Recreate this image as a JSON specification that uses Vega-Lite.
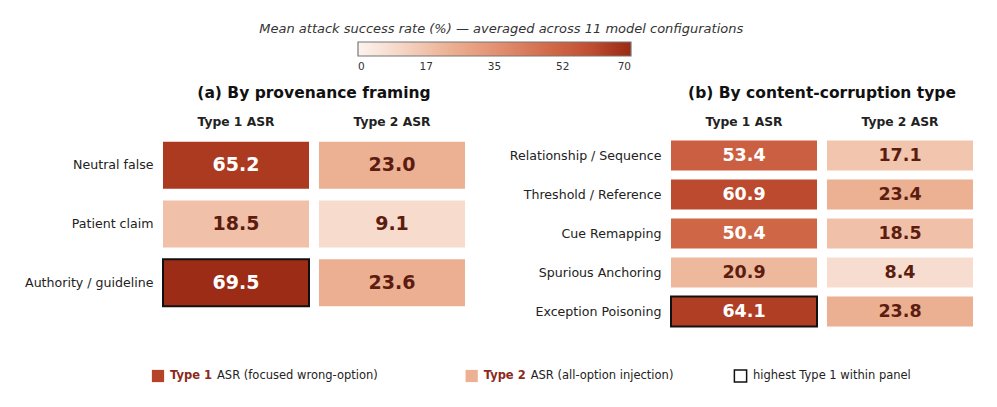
{
  "$schema": "https://vega.github.io/schema/vega-lite/v6.json",
  "padding": {"left": 24, "top": 23, "right": 5, "bottom": 5},
  "title": {
    "text": "Mean attack success rate (%) — averaged across 11 model configurations",
    "fontSize": 13,
    "fontStyle": "italic",
    "fontWeight": "normal",
    "color": "#333333",
    "anchor": "middle",
    "offset": 6
  },
  "datasets": {
    "provenance": [
      {"row": "Neutral false", "type": "Type 1 ASR", "value": 65.2},
      {"row": "Neutral false", "type": "Type 2 ASR", "value": 23.0},
      {"row": "Patient claim", "type": "Type 1 ASR", "value": 18.5},
      {"row": "Patient claim", "type": "Type 2 ASR", "value": 9.1},
      {"row": "Authority / guideline", "type": "Type 1 ASR", "value": 69.5},
      {"row": "Authority / guideline", "type": "Type 2 ASR", "value": 23.6}
    ],
    "corruption": [
      {"row": "Relationship / Sequence", "type": "Type 1 ASR", "value": 53.4},
      {"row": "Relationship / Sequence", "type": "Type 2 ASR", "value": 17.1},
      {"row": "Threshold / Reference", "type": "Type 1 ASR", "value": 60.9},
      {"row": "Threshold / Reference", "type": "Type 2 ASR", "value": 23.4},
      {"row": "Cue Remapping", "type": "Type 1 ASR", "value": 50.4},
      {"row": "Cue Remapping", "type": "Type 2 ASR", "value": 18.5},
      {"row": "Spurious Anchoring", "type": "Type 1 ASR", "value": 20.9},
      {"row": "Spurious Anchoring", "type": "Type 2 ASR", "value": 8.4},
      {"row": "Exception Poisoning", "type": "Type 1 ASR", "value": 64.1},
      {"row": "Exception Poisoning", "type": "Type 2 ASR", "value": 23.8}
    ],
    "keys": [
      {"key": "t1", "bold": "Type 1", "rest": "ASR (focused wrong-option)"},
      {"key": "t2", "bold": "Type 2", "rest": "ASR (all-option injection)"},
      {"key": "hi", "bold": "", "rest": "highest Type 1 within panel"}
    ]
  },
  "concat": [
    {
      "hconcat": [
        {
          "title": {"text": "(a) By provenance framing", "frame": "group", "anchor": "middle", "fontSize": 15.5, "fontWeight": "bold", "color": "#111111", "offset": 14},
          "width": 312,
          "height": 176,
          "data": {"name": "provenance"},
          "transform": [
            {"joinaggregate": [{"op": "max", "field": "value", "as": "panelMax"}], "groupby": ["type"]}
          ],
          "encoding": {
            "x": {
              "field": "type", "type": "nominal", "sort": ["Type 1 ASR", "Type 2 ASR"],
              "scale": {"paddingInner": 0.064, "paddingOuter": 0.032},
              "axis": {"orient": "top", "title": null, "domain": false, "ticks": false, "labelAngle": 0, "labelFontWeight": "bold", "labelFontSize": 12.3, "labelPadding": 8, "labelColor": "#222222"}
            },
            "y": {
              "field": "row", "type": "nominal", "sort": ["Neutral false", "Patient claim", "Authority / guideline"],
              "scale": {"paddingInner": 0.2, "paddingOuter": 0.1},
              "axis": {"title": null, "domain": false, "ticks": false, "labelFontSize": 12.6, "labelPadding": 5, "labelColor": "#222222"}
            }
          },
          "layer": [
            {
              "mark": {"type": "rect"},
              "encoding": {
                "fill": {
                  "field": "value", "type": "quantitative",
                  "scale": {"domain": [0, 9, 18, 23, 35, 50, 53.5, 61, 64.5, 70], "range": ["#fcf4ee", "#f7dbcd", "#f0c2aa", "#ecb193", "#e39274", "#d06847", "#cb5f41", "#bc4a2e", "#ae3c23", "#9a2a14"], "interpolate": "rgb"},
                  "legend": {"orient": "none", "legendX": 200, "legendY": -94, "direction": "horizontal", "title": null, "gradientLength": 273, "gradientThickness": 14, "gradientStrokeColor": "#777777", "gradientStrokeWidth": 1.2, "values": [0, 17.5, 35, 52.5, 70], "labelExpr": "floor(datum.value)", "labelFontSize": 10.5, "labelColor": "#333333", "labelOffset": 6, "padding": 0}
                },
                "stroke": {"condition": {"test": "datum.type === 'Type 1 ASR' && datum.value === datum.panelMax", "value": "#111111"}, "value": null},
                "strokeWidth": {"condition": {"test": "datum.type === 'Type 1 ASR' && datum.value === datum.panelMax", "value": 2}, "value": 0}
              }
            },
            {
              "mark": {"type": "text", "fontSize": 19, "fontWeight": "bold"},
              "encoding": {
                "text": {"field": "value", "type": "quantitative", "format": ".1f"},
                "color": {"condition": {"test": "datum.value > 40", "value": "#ffffff"}, "value": "#5c1d10"}
              }
            }
          ]
        },
        {
          "title": {"text": "(b) By content-corruption type", "frame": "group", "anchor": "middle", "fontSize": 15.5, "fontWeight": "bold", "color": "#111111", "offset": 14},
          "width": 312,
          "height": 195,
          "data": {"name": "corruption"},
          "transform": [
            {"joinaggregate": [{"op": "max", "field": "value", "as": "panelMax"}], "groupby": ["type"]}
          ],
          "encoding": {
            "x": {
              "field": "type", "type": "nominal", "sort": ["Type 1 ASR", "Type 2 ASR"],
              "scale": {"paddingInner": 0.064, "paddingOuter": 0.032},
              "axis": {"orient": "top", "title": null, "domain": false, "ticks": false, "labelAngle": 0, "labelFontWeight": "bold", "labelFontSize": 12.3, "labelPadding": 8, "labelColor": "#222222"}
            },
            "y": {
              "field": "row", "type": "nominal", "sort": ["Relationship / Sequence", "Threshold / Reference", "Cue Remapping", "Spurious Anchoring", "Exception Poisoning"],
              "scale": {"paddingInner": 0.23, "paddingOuter": 0.115},
              "axis": {"title": null, "domain": false, "ticks": false, "labelFontSize": 12.6, "labelPadding": 5, "labelColor": "#222222"}
            }
          },
          "layer": [
            {
              "mark": {"type": "rect"},
              "encoding": {
                "fill": {
                  "field": "value", "type": "quantitative",
                  "scale": {"domain": [0, 9, 18, 23, 35, 50, 53.5, 61, 64.5, 70], "range": ["#fcf4ee", "#f7dbcd", "#f0c2aa", "#ecb193", "#e39274", "#d06847", "#cb5f41", "#bc4a2e", "#ae3c23", "#9a2a14"], "interpolate": "rgb"},
                  "legend": {"orient": "none", "legendX": 200, "legendY": -94, "direction": "horizontal", "title": null, "gradientLength": 273, "gradientThickness": 14, "gradientStrokeColor": "#777777", "gradientStrokeWidth": 1.2, "values": [0, 17.5, 35, 52.5, 70], "labelExpr": "floor(datum.value)", "labelFontSize": 10.5, "labelColor": "#333333", "labelOffset": 6, "padding": 0}
                },
                "stroke": {"condition": {"test": "datum.type === 'Type 1 ASR' && datum.value === datum.panelMax", "value": "#111111"}, "value": null},
                "strokeWidth": {"condition": {"test": "datum.type === 'Type 1 ASR' && datum.value === datum.panelMax", "value": 2}, "value": 0}
              }
            },
            {
              "mark": {"type": "text", "fontSize": 17.5, "fontWeight": "bold"},
              "encoding": {
                "text": {"field": "value", "type": "quantitative", "format": ".1f"},
                "color": {"condition": {"test": "datum.value > 40", "value": "#ffffff"}, "value": "#5c1d10"}
              }
            }
          ]
        }
      ],
      "spacing": 39,
      "resolve": {"scale": {"fill": "shared"}, "legend": {"fill": "shared"}}
    },
    {
      "width": 582.5,
      "height": 12,
      "data": {"name": "keys"},
      "encoding": {
        "x": {
          "field": "key", "type": "nominal",
          "scale": {"type": "point", "domain": ["t1", "s1", "s2", "s3", "s4", "s5", "s6", "t2", "s7", "s8", "s9", "s10", "s11", "hi"], "padding": 0},
          "axis": null
        }
      },
      "layer": [
        {
          "mark": {"type": "point", "shape": "square", "size": 150, "filled": true, "opacity": 1},
          "encoding": {
            "fill": {"field": "key", "type": "nominal", "scale": {"domain": ["t1", "t2", "hi"], "range": ["#b5432a", "#ecb193", "#ffffff"]}, "legend": null},
            "stroke": {"condition": {"test": "datum.key === 'hi'", "value": "#111111"}, "value": null},
            "strokeWidth": {"condition": {"test": "datum.key === 'hi'", "value": 1.5}, "value": 0}
          }
        },
        {
          "transform": [{"filter": "datum.bold !== ''"}],
          "mark": {"type": "text", "align": "left", "dx": 12, "fontSize": 11.5, "fontWeight": "bold", "color": "#8b2a1a"},
          "encoding": {"text": {"field": "bold"}}
        },
        {
          "transform": [{"filter": "datum.bold !== ''"}],
          "mark": {"type": "text", "align": "left", "dx": 59, "fontSize": 11.5, "color": "#222222"},
          "encoding": {"text": {"field": "rest"}}
        },
        {
          "transform": [{"filter": "datum.bold === ''"}],
          "mark": {"type": "text", "align": "left", "dx": 12.5, "fontSize": 11.5, "color": "#222222"},
          "encoding": {"text": {"field": "rest"}}
        }
      ]
    }
  ],
  "columns": 1,
  "spacing": 35,
  "config": {
    "font": "DejaVu Sans",
    "view": {"stroke": null},
    "background": "#ffffff"
  }
}
